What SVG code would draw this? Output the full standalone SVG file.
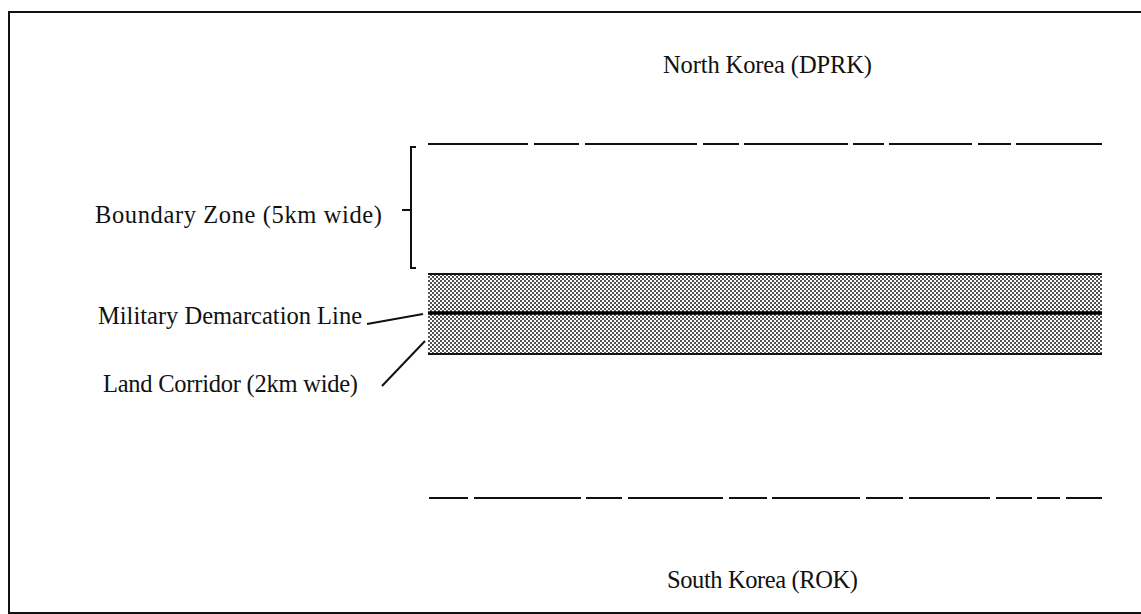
<svg xmlns="http://www.w3.org/2000/svg" width="1141" height="614" viewBox="0 0 1141 614">
<style>
text{font-family:"Liberation Serif","Times New Roman",serif;font-size:24.5px;fill:#111}
.ln{stroke:#111;stroke-width:2;fill:none}
.dash{stroke:#111;stroke-width:2.2;fill:none}
</style>
<defs>
<pattern id="dots" width="4" height="4" patternUnits="userSpaceOnUse">
<rect width="4" height="4" fill="#fff"/>
<rect x="0" y="0" width="2" height="2" fill="#333"/>
<rect x="2" y="2" width="2" height="2" fill="#333"/>
</pattern>
</defs>
<rect width="1141" height="614" fill="#fff"/>
<g id="frame"><path class="ln" d="M1145,12 H9 V613 H1145"/></g>
<g id="north"><text x="663" y="73" textLength="209">North Korea (DPRK)</text></g>
<g id="south"><text x="667" y="588" textLength="191">South Korea (ROK)</text></g>
<g id="boundary-top">
<path class="dash" d="M428,144H528M534,144H579M585,144H697M703,144H739M744,144H848M853,144H884M889,144H972M978,144H1011M1016,144H1102"/>
</g>
<g id="boundary-bottom">
<path class="dash" d="M429,498H468M474,498H581M586,498H622M628,498H723M729,498H767M772,498H860M866,498H903M909,498H990M996,498H1032M1037,498H1060M1066,498H1102"/>
</g>
<g id="corridor">
<rect x="428" y="274" width="674" height="80" fill="url(#dots)" opacity="0.85"/>
<path class="ln" d="M428,274H1102M428,354H1102"/>
</g>
<g id="mdl"><path stroke="#000" stroke-width="3.5" d="M428,313H1102"/></g>
<g id="boundary-label">
<text x="95" y="223" textLength="287">Boundary Zone (5km wide)</text>
<path class="ln" d="M416,147H411V268H416M402,210H411"/>
</g>
<g id="mdl-label"><text x="98" y="324" textLength="264">Military Demarcation Line</text></g>
<g id="corridor-label"><text x="103" y="392" textLength="255">Land Corridor (2km wide)</text></g>
<g id="connectors">
<path class="ln" d="M367,324L423,314"/>
<path class="ln" d="M382,386L425,341"/>
</g>
</svg>
